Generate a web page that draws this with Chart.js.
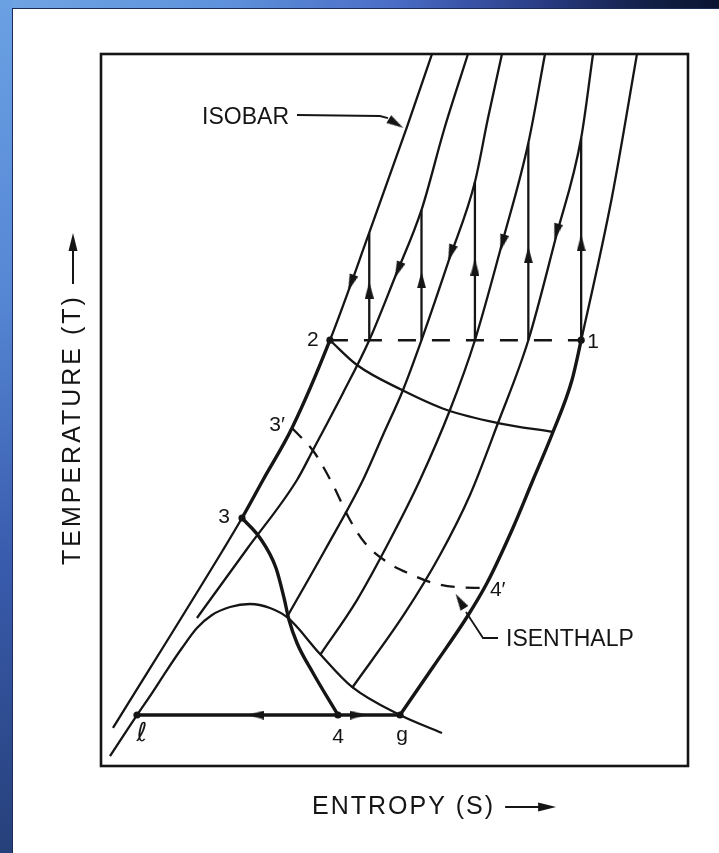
<!DOCTYPE html>
<html>
<head>
<meta charset="utf-8">
<title>Temperature–entropy diagram of a Linde–Hampson cycle</title>
<script src="https://cdn.jsdelivr.net/npm/chart.js@4.4.1/dist/chart.umd.min.js"></script>
<style>
  html, body { margin: 0; padding: 0; width: 719px; height: 853px; overflow: hidden; background: #fff; }
  #topbar { position: absolute; left: 0; top: 0; width: 719px; height: 8px;
    background: linear-gradient(to right, #6fa4e4 0%, #5f93dc 30%, #4a6cc6 55%, #2a3d86 75%, #121f46 90%, #0b1430 100%); }
  #sidebar { position: absolute; left: 0; top: 0; width: 12px; height: 853px;
    background: linear-gradient(to bottom, #6aa1e3 0%, #5586d4 35%, #3a5cae 65%, #26407a 100%); }
  #sheet { position: absolute; left: 12px; top: 8px; width: 707px; height: 845px; background: #fff;
    box-shadow: inset 1px 1px 0 #1b2a56; }
  canvas { display: block; }
</style>
</head>
<body>
<div id="topbar"></div>
<div id="sidebar"></div>
<div id="sheet"><canvas id="ts" width="707" height="845"></canvas></div>
<script>
// Entropy S (horizontal) and temperature T (vertical), both in relative units 0–100.

// Isobars, from the lowest pressure (through 1 and g) to the highest (through 2 and 3).
const isobar1 = [[50.94, 7.16], [56.56, 13.90], [62.35, 20.93], [65.76, 25.70], [70.02, 33.15], [73.59, 40.17],
                 [77.00, 46.91], [80.24, 54.21], [81.8, 59.8], [87.05, 79.92], [91.31, 100]];
const isobar2 = [[42.76, 10.96], [51.79, 21.49], [57.75, 29.63], [62.86, 38.06], [67.63, 48.17], [72.8, 59.8],
                 [77.51, 74.30], [81.8, 88.2], [83.82, 100]];
const isobar3 = [[37.31, 15.59], [43.61, 23.31], [49.23, 31.74], [54.34, 40.17], [59.45, 50.00], [63.7, 59.8],
                 [68.48, 73.88], [72.8, 87.5], [75.64, 100]];
const isobar4 = [[31.69, 20.93], [38.16, 30.34], [44.63, 40.17], [48.04, 46.49], [51.45, 52.81], [54.6, 59.8],
                 [59.28, 71.07], [63.7, 82.02], [65.93, 91.01], [68.31, 100]];
const isobar5 = [[16.35, 20.79], [24.87, 30.48], [33.39, 40.17], [36.12, 44.38], [41.23, 52.39], [45.7, 59.8],
                 [50.09, 68.68], [54.6, 78.1], [58.43, 89.33], [62.52, 100]];
const isobar6 = [[2.04, 5.34], [20.78, 30.34], [24.02, 34.83], [27.60, 40.17], [32.54, 47.47], [39.0, 59.8],
                 [45.7, 74.9], [52.13, 89.75], [56.39, 100]];

// Saturation curve (liquid side through ℓ, vapour side through g).
const saturation = [[1.53, 1.40], [6.13, 7.16], [8.69, 10.25], [11.24, 13.48], [13.80, 16.57], [16.35, 19.38],
                    [18.91, 21.21], [21.98, 22.33], [25.38, 22.75], [28.79, 22.19], [31.86, 20.79],
                    [37.31, 15.73], [42.76, 11.10], [50.94, 7.16], [58.09, 4.63]];

// Isenthalps: 3 → 4 (throttling into the dome), 3′ → 4′ (dashed) and 2 → low-pressure isobar.
const isenthalp34 = [[24.02, 34.83], [27.09, 32.02], [29.81, 27.81], [31.18, 23.60], [32.03, 20.51],
                     [33.39, 17.28], [36.12, 13.06], [40.37, 7.16]];
const isenthalp3p4p = [[32.54, 47.47], [36.29, 44.10], [39.35, 39.75], [42.42, 34.55], [44.97, 31.32],
                       [48.72, 28.65], [52.64, 26.97], [56.56, 25.70], [60.31, 25.14], [65.2, 25.0]];
const isenthalp2 = [[39.0, 59.8], [43.61, 56.32], [51.28, 52.81], [58.94, 50.00], [67.63, 48.17], [77.00, 46.91]];

// Compression temperature T1 = T2, and the isentropic steps rising from it.
const compressionT = 59.8;
const stepS = [81.8, 72.8, 63.7, 54.6, 45.7];
const stepTopT = [88.2, 87.5, 82.02, 78.1, 74.9];

// Two-phase line at the low pressure, ℓ → g.
const twoPhaseT = 7.16;
const twoPhaseS = [6.13, 50.94];

// State points.
const stateNames = ['2', '1', '3′', '3', '4′', 'ℓ', '4', 'g'];
const stateS = [39.0, 81.8, 32.54, 24.02, 65.2, 6.13, 40.37, 50.94];
const stateT = [59.8, 59.8, 47.47, 34.83, 25.0, 7.16, 7.16, 7.16];
const markedStates = ['2', '1', '3', 'ℓ', '4', 'g'];

// Flow arrows: position and heading (ΔS, ΔT).
const arrowS = [81.8, 72.8, 63.7, 54.6, 45.7, 77.6, 68.4, 59.6, 50.6, 42.6, 26.4, 43.8, 50.26, 61.16];
const arrowT = [73.46, 71.77, 70.08, 68.26, 66.85, 75.0, 73.46, 72.05, 69.66, 67.84, 7.16, 7.16, 90.24, 23.17];
const arrowDS = [0, 0, 0, 0, 0, -9.0, -9.1, -9.1, -8.9, -6.7, -1, 1, 3.07, -1.87];
const arrowDT = [1, 1, 1, 1, 1, -28.4, -27.7, -22.2, -18.3, -15.1, 0, 0, -1.54, 2.53];

// Callout leaders.
const isobarLeader = [[33.39, 91.43], [47.53, 91.29], [48.89, 91.01]];
const isenthalpLeader = [[67.63, 17.98], [65.08, 17.98], [62.18, 21.63]];

const INK = '#151515';
const THIN = 2.3;
const THICK = 3.4;
const FONT = '"Liberation Sans", "DejaVu Sans", Arial, sans-serif';

const pts = arr => arr.map(([x, y]) => ({ x, y }));

function arrowHead(w, h) {
  const c = document.createElement('canvas');
  c.width = w; c.height = h;
  const g = c.getContext('2d');
  g.fillStyle = INK;
  g.beginPath();
  g.moveTo(w / 2, 0);
  g.lineTo(w, h);
  g.lineTo(0, h);
  g.closePath();
  g.fill();
  return c;
}
const headImg = arrowHead(9, 17);

function curve(data, extra) {
  return Object.assign({
    data: pts(data), showLine: true, borderColor: INK, borderWidth: THIN,
    pointRadius: 0, cubicInterpolationMode: 'monotone', fill: false
  }, extra || {});
}

const datasets = [
  curve(isobar1, { segment: { borderWidth: c => (c.p0DataIndex < 8 ? THICK : THIN) } }),
  curve(isobar2),
  curve(isobar3),
  curve(isobar4),
  curve(isobar5),
  curve(isobar6, { segment: { borderWidth: c => (c.p0DataIndex >= 2 && c.p0DataIndex < 5 ? THICK : THIN) } }),
  curve(saturation),
  curve(isenthalp34, { borderWidth: THICK }),
  curve(isenthalp3p4p, { borderDash: [14, 11] }),
  curve(isenthalp2),
  curve([[twoPhaseS[0], twoPhaseT], [twoPhaseS[1], twoPhaseT]], { borderWidth: THICK, cubicInterpolationMode: 'default' }),
  curve([[stateS[0], compressionT], [stateS[1], compressionT]], { borderDash: [18, 16], borderWidth: 2.4, cubicInterpolationMode: 'default' }),
  ...stepS.map((s, i) => curve([[s, compressionT], [s, stepTopT[i]]], { cubicInterpolationMode: 'default' })),
  curve(isobarLeader, { borderWidth: 1.8, cubicInterpolationMode: 'default', tension: 0 }),
  curve(isenthalpLeader, { borderWidth: 1.8, cubicInterpolationMode: 'default', tension: 0 }),
  {
    data: markedStates.map(n => { const i = stateNames.indexOf(n); return { x: stateS[i], y: stateT[i] }; }),
    showLine: false, pointRadius: 3.6, pointBackgroundColor: INK, pointBorderWidth: 0
  },
  {
    data: arrowS.map((s, i) => ({ x: s, y: arrowT[i], dx: arrowDS[i], dy: arrowDT[i] })),
    showLine: false, pointStyle: headImg, pointRadius: 8,
    rotation: ctx => {
      if (ctx.type !== 'data') return 0;
      const p = ctx.raw, { x, y } = ctx.chart.scales;
      const px = x.getPixelForValue(p.x + p.dx) - x.getPixelForValue(p.x);
      const py = y.getPixelForValue(p.y + p.dy) - y.getPixelForValue(p.y);
      return Math.atan2(px, -py) * 180 / Math.PI;
    }
  }
];

// Frame, state labels, callout texts and axis captions.
const diagramText = {
  id: 'diagramText',
  beforeDatasetsDraw(chart) {
    const { ctx, chartArea: a } = chart;
    ctx.save();
    ctx.strokeStyle = INK;
    ctx.lineWidth = 2.6;
    ctx.strokeRect(a.left, a.top, a.right - a.left, a.bottom - a.top);
    ctx.restore();
  },
  afterDatasetsDraw(chart) {
    const { ctx, chartArea: a, scales: { x, y } } = chart;
    const offsets = { '2': [-17, 0], '1': [12, 2], '3′': [-15, -3], '3': [-18, -1],
                      '4′': [14, 2], 'ℓ': [5, 19], '4': [0, 22], 'g': [2, 20] };
    ctx.save();
    ctx.fillStyle = INK;
    ctx.textAlign = 'center';
    ctx.textBaseline = 'middle';
    stateNames.forEach((n, i) => {
      const [ox, oy] = offsets[n];
      ctx.font = (n === 'ℓ' ? '26px "DejaVu Sans", ' : '21px ') + FONT;
      ctx.fillText(n, x.getPixelForValue(stateS[i]) + ox, y.getPixelForValue(stateT[i]) + oy);
    });

    ctx.font = '23px ' + FONT;
    ctx.textAlign = 'right';
    ctx.fillText('ISOBAR', x.getPixelForValue(isobarLeader[0][0]) - 8, y.getPixelForValue(isobarLeader[0][1]) + 3);
    ctx.textAlign = 'left';
    ctx.fillText('ISENTHALP', x.getPixelForValue(isenthalpLeader[0][0]) + 8, y.getPixelForValue(isenthalpLeader[0][1]) + 2);

    // Axis captions with arrows
    const drawCaption = (text, ox, oy, angle, spacing) => {
      ctx.save();
      ctx.translate(ox, oy);
      ctx.rotate(angle);
      ctx.font = '25px ' + FONT;
      if ('letterSpacing' in ctx) ctx.letterSpacing = spacing;
      ctx.textAlign = 'left';
      ctx.textBaseline = 'middle';
      ctx.fillText(text, 0, 0);
      const w = ctx.measureText(text).width;
      const x0 = w + 10, x1 = x0 + 51;
      ctx.strokeStyle = INK;
      ctx.lineWidth = 2;
      ctx.beginPath();
      ctx.moveTo(x0, 0);
      ctx.lineTo(x1 - 14, 0);
      ctx.stroke();
      ctx.beginPath();
      ctx.moveTo(x1, 0);
      ctx.lineTo(x1 - 18, -4.5);
      ctx.lineTo(x1 - 18, 4.5);
      ctx.closePath();
      ctx.fill();
      ctx.restore();
    };
    drawCaption('ENTROPY (S)', a.left + 211, a.bottom + 41, 0, '2px');
    drawCaption('TEMPERATURE (T)', a.left - 28, a.bottom - 201, -Math.PI / 2, '3px');
    ctx.restore();
  }
};

new Chart(document.getElementById('ts'), {
  type: 'scatter',
  data: { datasets },
  options: {
    responsive: false,
    animation: false,
    events: [],
    layout: { padding: { left: 89, top: 46, right: 31, bottom: 87 } },
    scales: {
      x: { type: 'linear', min: 0, max: 100, display: false },
      y: { type: 'linear', min: 0, max: 100, display: false }
    },
    plugins: { legend: { display: false }, tooltip: { enabled: false } }
  },
  plugins: [diagramText]
});
</script>
</body>
</html>
